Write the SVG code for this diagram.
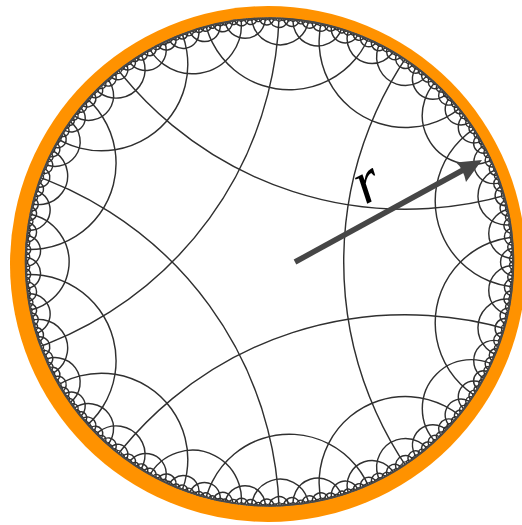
<svg xmlns="http://www.w3.org/2000/svg" xmlns:xlink="http://www.w3.org/1999/xlink" width="522" height="525" viewBox="0 0 522 525">
<style>
.t{fill:none;stroke:#303030;stroke-width:1.45}
.s{stroke-width:1.05}
.rim{fill:none;stroke:#484848;stroke-width:2}
</style>
<defs>
<clipPath id="dc"><circle cx="0" cy="0" r="244.5"/></clipPath>
<g id="half">
<circle cx="252.00" cy="61.03" r="86.31"/>
<circle cx="237.22" cy="65.83" r="28.77"/>
<circle cx="244.11" cy="28.44" r="24.86"/>
<circle cx="235.52" cy="66.39" r="9.91"/>
<circle cx="243.34" cy="25.26" r="8.43"/>
<circle cx="244.52" cy="3.18" r="4.50"/>
<circle cx="238.60" cy="53.99" r="8.06"/>
<circle cx="241.88" cy="36.46" r="7.52"/>
<circle cx="244.11" cy="15.01" r="5.87"/>
<circle cx="240.36" cy="45.01" r="4.33"/>
<circle cx="244.37" cy="8.50" r="2.84"/>
<circle cx="224.60" cy="98.75" r="20.37"/>
<circle cx="213.96" cy="118.75" r="9.91"/>
<circle cx="222.44" cy="101.72" r="6.79"/>
<circle cx="214.77" cy="116.89" r="3.27"/>
<circle cx="231.76" cy="78.25" r="7.52"/>
<circle cx="226.15" cy="93.15" r="6.41"/>
<circle cx="218.88" cy="109.05" r="4.50"/>
<circle cx="228.84" cy="86.18" r="3.85"/>
<circle cx="216.59" cy="113.46" r="2.11"/>
<circle cx="204.56" cy="134.84" r="15.77"/>
<circle cx="204.88" cy="133.54" r="5.41"/>
<circle cx="212.56" cy="120.88" r="3.18"/>
<circle cx="200.90" cy="139.44" r="4.61"/>
<circle cx="208.43" cy="127.87" r="3.94"/>
<circle cx="210.68" cy="124.10" r="1.96"/>
<circle cx="243.58" cy="21.26" r="2.19"/>
<g class="s">
<circle cx="235.31" cy="66.45" r="3.43"/>
<circle cx="243.25" cy="24.88" r="2.91"/>
<circle cx="238.73" cy="52.86" r="2.73"/>
<circle cx="241.65" cy="37.29" r="2.57"/>
<circle cx="244.11" cy="13.96" r="1.95"/>
<circle cx="244.48" cy="3.54" r="1.55"/>
<circle cx="236.47" cy="62.22" r="2.73"/>
<circle cx="242.83" cy="28.63" r="2.39"/>
<circle cx="237.91" cy="56.45" r="2.48"/>
<circle cx="242.15" cy="33.91" r="2.26"/>
<circle cx="243.94" cy="16.64" r="1.85"/>
<circle cx="244.50" cy="1.51" r="1.31"/>
<circle cx="239.42" cy="49.62" r="1.87"/>
<circle cx="241.15" cy="40.38" r="1.81"/>
<circle cx="244.23" cy="11.62" r="1.29"/>
<circle cx="237.23" cy="59.23" r="1.44"/>
<circle cx="242.50" cy="31.32" r="1.29"/>
<circle cx="240.15" cy="45.95" r="1.41"/>
<circle cx="240.52" cy="43.99" r="1.40"/>
<circle cx="222.19" cy="102.06" r="2.34"/>
<circle cx="231.28" cy="79.34" r="2.53"/>
<circle cx="226.32" cy="92.55" r="2.19"/>
<circle cx="218.47" cy="109.80" r="1.49"/>
<circle cx="234.09" cy="70.61" r="2.66"/>
<circle cx="223.45" cy="99.28" r="1.96"/>
<circle cx="232.38" cy="76.07" r="2.34"/>
<circle cx="225.20" cy="95.23" r="1.90"/>
<circle cx="219.39" cy="107.95" r="1.43"/>
<circle cx="230.27" cy="82.22" r="1.71"/>
<circle cx="227.32" cy="90.05" r="1.57"/>
<circle cx="233.21" cy="73.49" r="1.39"/>
<circle cx="229.11" cy="85.40" r="1.26"/>
<circle cx="228.49" cy="87.05" r="1.24"/>
<circle cx="204.92" cy="133.38" r="1.87"/>
<circle cx="200.53" cy="139.90" r="1.57"/>
<circle cx="208.77" cy="127.28" r="1.32"/>
<circle cx="203.58" cy="135.42" r="1.52"/>
<circle cx="201.72" cy="138.17" r="1.41"/>
<circle cx="207.81" cy="128.84" r="1.23"/>
</g>
</g>
<g id="sec">
<use xlink:href="#half"/>
<use xlink:href="#half" transform="scale(1,-1)"/>
<circle cx="439.82" cy="0" r="365.60"/>
<circle cx="244.89" cy="0" r="13.84"/>
<circle cx="201.73" cy="146.56" r="48.93"/>
<circle cx="197.82" cy="143.72" r="2.57"/>
</g>
</defs>
<circle cx="268" cy="264" r="258" fill="#FF9200"/>
<circle cx="269.5" cy="262" r="244.5" fill="#ffffff"/>
<g id="tiling" transform="translate(269.5,262)">
<g class="t" clip-path="url(#dc)">
<use xlink:href="#sec"/>
<use xlink:href="#sec" transform="rotate(72)"/>
<use xlink:href="#sec" transform="rotate(144)"/>
<use xlink:href="#sec" transform="rotate(216)"/>
<use xlink:href="#sec" transform="rotate(288)"/>
</g>
<circle class="rim" cx="0" cy="0" r="243.8"/>
</g>
<g id="arrow">
<line x1="295" y1="262" x2="464" y2="169.5" stroke="#464646" stroke-width="5.5"/>
<path d="M482,160 L456,162.5 Q463,168 466,182 Z" fill="#464646"/>
</g>
<text transform="translate(365,205) rotate(-28)" font-family="Liberation Serif" font-style="italic" font-size="62" fill="#000">r</text>
</svg>
